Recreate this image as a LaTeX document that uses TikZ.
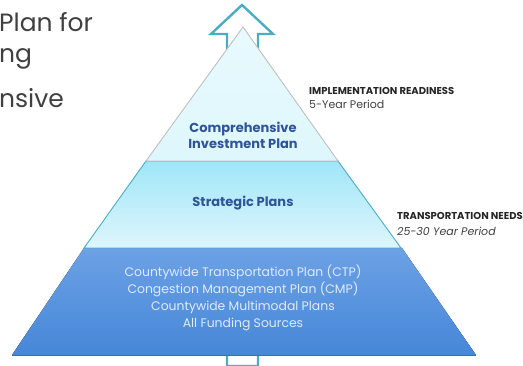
\documentclass[tikz,border=0pt]{standalone}
\usepackage{fontspec}
\setmainfont{Poppins}
\usetikzlibrary{positioning}

\definecolor{arrowline}{HTML}{4BACC6}
\definecolor{tiertxt}{HTML}{2F5597}
\definecolor{sidetxt}{HTML}{262626}
\definecolor{titletxt}{HTML}{404040}
\definecolor{basetop}{RGB}{108,161,229}
\definecolor{basebot}{RGB}{70,135,216}
\definecolor{baseedge}{RGB}{60,110,180}
\definecolor{midtop}{RGB}{160,230,248}
\definecolor{midbot}{RGB}{222,246,252}
\definecolor{captop}{RGB}{232,250,254}
\definecolor{capbot}{RGB}{222,247,252}
\definecolor{basetxt}{RGB}{225,234,248}

\begin{document}
\begin{tikzpicture}[x=1pt, y=-1pt,
  tiertext/.style={text=tiertxt, font=\fontsize{13}{16}\selectfont\bfseries, align=center},
  basetext/.style={text=basetxt, font=\fontsize{12.4}{16.8}\selectfont, align=center},
  headlabel/.style={text=sidetxt, font=\fontsize{10}{12}\selectfont\bfseries, anchor=west, inner sep=0pt},
  sublabel/.style={text=titletxt, font=\fontsize{11}{12}\selectfont, anchor=west, inner sep=0pt},
  titlepart/.style={text=titletxt, font=\fontsize{25}{28}\selectfont, anchor=west, inner sep=0pt}]
  \useasboundingbox (0,0) rectangle (523,366);

  % cut-off title lines
  \node[titlepart] (title1) at (-1,22) {Plan for};
  \node[titlepart] (title2) at (-1,59) {ng};
  \node[titlepart] (title3) at (-1,98) {nsive};

  % hollow arrow behind the pyramid
  \draw[arrowline, line width=2.4pt, fill=white, line join=miter]
    (242,5) -- (273,34) -- (258,34) -- (258,366) -- (227,366) -- (227,34) -- (211,34) -- cycle;

  % bottom tier
  \fill[top color=basetop, bottom color=basebot]
    (84,248) -- (402,248) -- (476,355) -- (12,355) -- cycle;
  \draw[baseedge, line width=0.8pt] (12,355) -- (476,355);

  % middle tier
  \draw[arrowline, line width=0.9pt, top color=midtop, bottom color=midbot]
    (146,161) -- (338,161) -- (401,248) -- (84,248) -- cycle;

  % top tier
  \draw[black!25, line width=0.9pt, top color=captop, bottom color=capbot]
    (243,27) -- (338,161) -- (146,161) -- cycle;

  \node[tiertext] (invest) at (243,135) {Comprehensive\\Investment Plan};
  \node[tiertext] (strategic) at (243,203) {Strategic Plans};
  \node[basetext] (base) at (243,298)
    {Countywide Transportation Plan (CTP)\\Congestion Management Plan (CMP)\\
     Countywide Multimodal Plans\\All Funding Sources};

  % side labels
  \node[headlabel] (ready) at (309,91) {IMPLEMENTATION READINESS};
  \node[sublabel] (readyterm) at (309,104) {5-Year Period};
  \node[headlabel] (needs) at (397,216) {TRANSPORTATION NEEDS};
  \node[sublabel, font=\fontsize{11}{12}\selectfont\itshape] (needsterm) at (397,231) {25-30 Year Period};
\end{tikzpicture}
\end{document}
